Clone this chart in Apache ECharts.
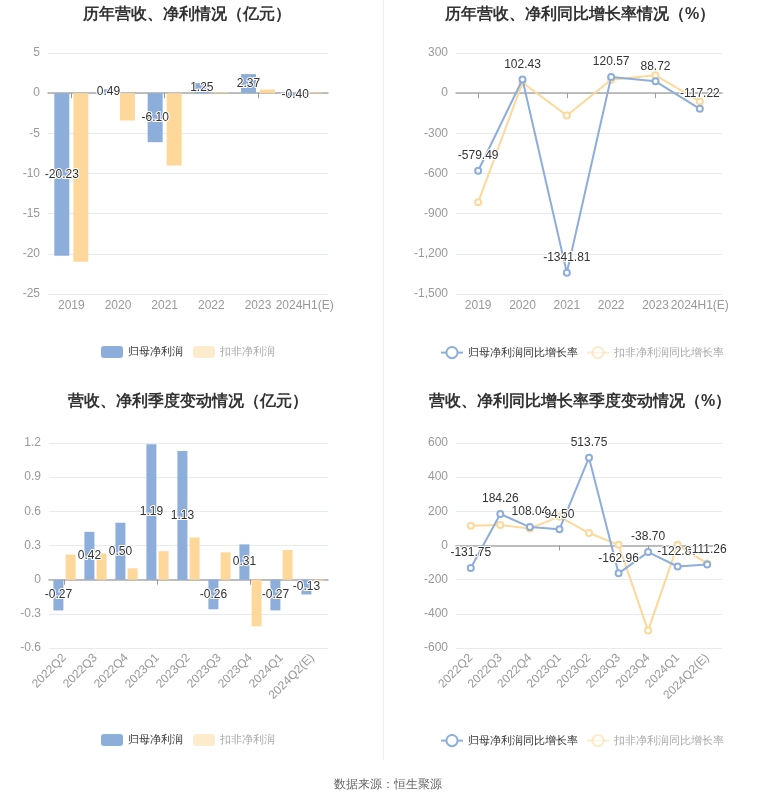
<!DOCTYPE html>
<html><head><meta charset="utf-8">
<script src="https://cdn.jsdelivr.net/npm/echarts@6/dist/echarts.min.js"></script>
<style>html,body{margin:0;padding:0;background:#fff}#c{width:765px;height:801px}</style>
</head><body><div id="c"></div>
<script>
// ---- data ----
const yearCats = ['2019','2020','2021','2022','2023','2024H1(E)'];
const yearNet = [-20.23, 0.49, -6.10, 1.25, 2.37, -0.40];
const yearDeduct = [-21.0, -3.4, -9.0, 0.1, 0.45, 0.1];
const yearNetGrowth = [-579.49, 102.43, -1341.81, 120.57, 88.72, -117.22];
const yearDeductGrowth = [-815, 80, -167, 100, 133, -62];
const qCats = ['2022Q2','2022Q3','2022Q4','2023Q1','2023Q2','2023Q3','2023Q4','2024Q1','2024Q2(E)'];
const qNet = [-0.27, 0.42, 0.50, 1.19, 1.13, -0.26, 0.31, -0.27, -0.13];
const qDeduct = [0.22, 0.23, 0.10, 0.25, 0.37, 0.24, -0.41, 0.26, -0.01];
const qNetGrowth = [-131.75, 184.26, 108.04, 94.50, 513.75, -162.96, -38.70, -122.87, -111.26];
const qDeductGrowth = [116, 120, 100, 169, 73, 4, -498, 4, -106];

const BLUE = '#8dadda', YEL = '#fed89a';
const chart = echarts.init(document.getElementById('c'));
const grids = [
  {left:48, top:53, width:280, height:241},
  {left:456, top:53, width:266, height:241},
  {left:49, top:443, width:279, height:205},
  {left:456, top:443, width:266, height:205}
];
const yCfg = [
  {min:-25,max:5,interval:5},
  {min:-1500,max:300,interval:300},
  {min:-0.6,max:1.2,interval:0.3},
  {min:-600,max:600,interval:200}
];
const cats = [yearCats, yearCats, qCats, qCats];
const xAxis = [], yAxis = [];
for (let i=0;i<4;i++){
  const rot = i>=2;
  xAxis.push({type:'category', gridIndex:i, data:cats[i], position:'bottom',
    axisLine:{show:false, onZero:false}, axisTick:{show:false},
    axisLabel:{color:'#999', fontSize:12, margin: rot?8:6, rotate: rot?45:0, interval:0}});
  xAxis.push({type:'category', gridIndex:i, data:cats[i], position:'bottom',
    axisLine:{show:true, onZero:true, lineStyle:{color:'#aaa', width:1.5}},
    axisTick:{show:true, alignWithLabel:true, length:5, lineStyle:{color:'#999'}},
    axisLabel:{show:false}});
  yAxis.push(Object.assign({type:'value', gridIndex:i,
    axisLine:{show:false}, axisTick:{show:false},
    axisLabel:{color:'#999', fontSize:12},
    splitLine:{lineStyle:{color:'#e6eaf3'}}}, yCfg[i]));
}
const barLabel = {show:true, position:'inside', color:'#333', fontSize:12, textBorderColor:'#fff', textBorderWidth:2,
  formatter: p => p.value.toFixed(2)};
const lineLabel = {show:true, position:'top', color:'#333', fontSize:12, textBorderColor:'#fff', textBorderWidth:2,
  formatter: p => p.value.toFixed(2)};
function bars(i, net, ded, bw, gap){
  return [
    {type:'bar', name:'归母净利润', xAxisIndex:2*i, yAxisIndex:i, data:net, barWidth:bw, barGap:gap,
      itemStyle:{color:BLUE}, label:barLabel, z:3},
    {type:'bar', name:'扣非净利润', xAxisIndex:2*i, yAxisIndex:i, data:ded, barWidth:bw, barGap:gap,
      itemStyle:{color:YEL}, z:2}
  ];
}
function lines(i, net, ded){
  return [
    {type:'line', name:'归母净利润同比增长率', xAxisIndex:2*i, yAxisIndex:i, data:net, symbol:'emptyCircle', symbolSize:6,
      lineStyle:{width:2,color:BLUE}, itemStyle:{color:BLUE}, label:lineLabel, z:4},
    {type:'line', name:'扣非净利润同比增长率', xAxisIndex:2*i, yAxisIndex:i, data:ded, symbol:'emptyCircle', symbolSize:6,
      lineStyle:{width:2,color:YEL}, itemStyle:{color:YEL}, z:3}
  ];
}
const titleStyle = {fontSize:16, fontWeight:'bold', color:'#333'};
function legend(x, y, names, isBar){
  return {left:x, top:y, orient:'horizontal', itemGap: isBar?10:8, width:400,
    itemWidth: 22, itemHeight: isBar?12:14,
    textStyle:{fontSize:11, color:'#333'},
    data:[{name:names[0], icon: isBar?'roundRect':undefined},
          {name:names[1], icon: isBar?'roundRect':undefined, itemStyle:{opacity:0.5}, lineStyle:{opacity:0.5}, textStyle:{color:'#aaa'}}]};
}
const barNames = ['归母净利润','扣非净利润'];
const lineNames = ['归母净利润同比增长率','扣非净利润同比增长率'];
chart.setOption({
  animation:false,
  title:[
    {text:'历年营收、净利情况（亿元）', left:182, top:2, textAlign:'center', textStyle:titleStyle},
    {text:'历年营收、净利同比增长率情况（%）', left:575, top:2, textAlign:'center', textStyle:titleStyle},
    {text:'营收、净利季度变动情况（亿元）', left:183, top:389, textAlign:'center', textStyle:titleStyle},
    {text:'营收、净利同比增长率季度变动情况（%）', left:575, top:389, textAlign:'center', textStyle:titleStyle},
    {text:'数据来源：恒生聚源', left:383, top:774, textAlign:'center', textStyle:{fontSize:12, fontWeight:'normal', color:'#666'}}
  ],
  legend:[
    legend(96, 341, barNames, true),
    legend(435, 341, lineNames, false),
    legend(96, 729, barNames, true),
    legend(435, 729, lineNames, false)
  ],
  grid:grids,
  xAxis:xAxis,
  yAxis:yAxis,
  graphic:[{type:'line', shape:{x1:383.5,y1:0,x2:383.5,y2:760}, style:{stroke:'#eeeeee', lineWidth:1}}],
  series:[].concat(bars(0, yearNet, yearDeduct, 15, '27%'), lines(1, yearNetGrowth, yearDeductGrowth),
    bars(2, qNet, qDeduct, 10, '22%'), lines(3, qNetGrowth, qDeductGrowth))
});
</script></body></html>
